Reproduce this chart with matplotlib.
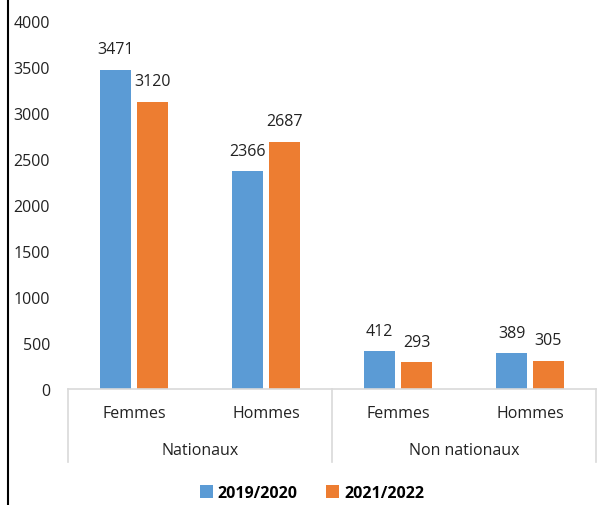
import matplotlib.pyplot as plt
from matplotlib.lines import Line2D
import matplotlib.transforms as mtransforms
import numpy as np

groups = ["Nationaux", "Non nationaux"]
categories = ["Femmes", "Hommes", "Femmes", "Hommes"]
series = ["2019/2020", "2021/2022"]
values_2019 = [3471, 2366, 412, 389]
values_2021 = [3120, 2687, 293, 305]

plt.rcParams['font.family'] = ['Open Sans', 'DejaVu Sans']
plt.rcParams['font.size'] = 11.5

W, H = 603, 506
fig = plt.figure(figsize=(W / 100, H / 100), dpi=100)
ax = fig.add_axes([68 / W, (H - 390) / H, (596 - 68) / W, (390 - 22) / H])

x = np.arange(len(categories))
width = 0.23
off = 0.14
b1 = ax.bar(x - off, values_2019, width, color="#5B9BD5", label=series[0])
b2 = ax.bar(x + off, values_2021, width, color="#ED7D31", label=series[1])

for bars in (b1, b2):
    for rect in bars:
        ax.annotate(f"{int(rect.get_height())}",
                    (rect.get_x() + rect.get_width() / 2, rect.get_height()),
                    xytext=(0, 9), textcoords="offset points",
                    ha="center", va="bottom", color="#222222")

ax.set_xlim(-0.5, len(categories) - 0.5)
ax.set_ylim(0, 4000)
ax.set_yticks(range(0, 4001, 500))
ax.tick_params(axis='y', length=0, pad=13, colors="#222222")
ax.set_xticks([])
for s in ("top", "right", "left"):
    ax.spines[s].set_visible(False)
ax.spines["bottom"].set_color("#d9d9d9")
ax.spines["bottom"].set_linewidth(1.2)

# two-level category axis
trans = mtransforms.blended_transform_factory(ax.transData, ax.transAxes)
px = 1 / (390 - 22)
for xi, lab in zip(x, categories):
    ax.text(xi, -24 * px, lab, transform=trans, ha="center", va="center",
            color="#222222", clip_on=False)
for gi, g in enumerate(groups):
    ax.text(2 * gi + 0.5, -61 * px, g, transform=trans, ha="center",
            va="center", color="#222222", clip_on=False)
for xb in (-0.5, 1.5, 3.5):
    ax.plot([xb, xb], [0, -73 * px], transform=trans, color="#d9d9d9",
            lw=1.2, clip_on=False)

fig.legend(loc="center", bbox_to_anchor=(312 / W, 1 - 494 / H), ncol=2,
           frameon=False, handlelength=0.8, handleheight=0.8,
           handletextpad=0.3, columnspacing=1.8,
           prop={"weight": "bold", "size": 11.5})

fig.add_artist(Line2D([7.5 / W, 7.5 / W], [0, 1], color="black", lw=1.5,
                      transform=fig.transFigure))

fig.savefig("out.png", dpi=100)
